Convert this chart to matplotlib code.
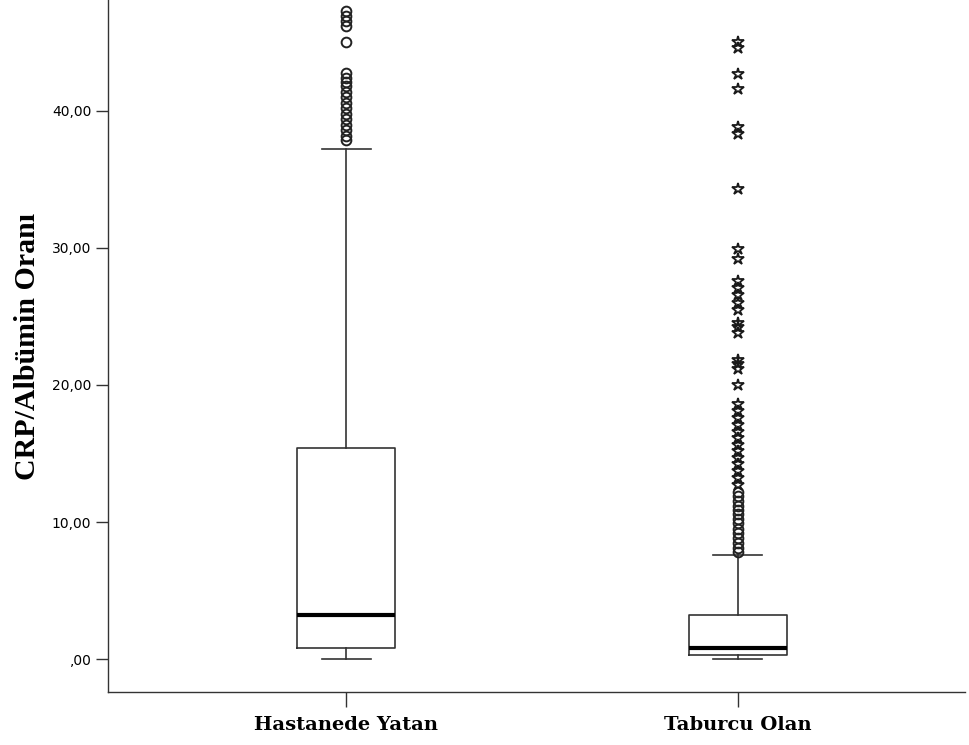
import matplotlib.pyplot as plt

# group labels
groups = ['Hastanede Yatan', 'Taburcu Olan']

# box summary per group: whisker low, Q1, median, Q3, whisker high
whislo = [0.0, 0.0]
q1 = [0.8, 0.3]
med = [3.2, 0.8]
q3 = [15.4, 3.2]
whishi = [37.2, 7.6]

# outliers (circles) and extremes (stars)
out_yatan = [47.3, 46.9, 46.6, 46.2, 45.0, 42.8, 42.4, 42.1, 41.8, 41.4,
             41.0, 40.6, 40.2, 39.8, 39.4, 39.0, 38.6, 38.2, 37.9]
out_taburcu = [12.2, 11.9, 11.5, 11.2, 10.9, 10.6, 10.2, 9.9, 9.5, 9.2,
               8.8, 8.5, 8.1, 7.8]
ext_taburcu = [45.0, 44.6, 42.7, 41.6, 38.8, 38.3, 34.3, 29.9, 29.2, 27.6,
               27.1, 26.6, 26.0, 25.5, 24.5, 24.2, 23.8, 21.8, 21.5, 21.2,
               20.0, 18.6, 18.1, 17.6, 17.1, 16.6, 16.1, 15.6, 15.2, 14.7,
               14.2, 13.7, 13.2, 12.7]

fig = plt.figure(figsize=(9.69, 7.45), dpi=100)
ax = fig.add_axes([0.1115, 0.0711, 0.8845, 0.9289])

stats = []
for i in range(len(groups)):
    stats.append({'whislo': whislo[i], 'q1': q1[i], 'med': med[i],
                  'q3': q3[i], 'whishi': whishi[i], 'fliers': []})

line = dict(color='#333333', linewidth=1.2)
ax.bxp(stats, positions=[1, 2], widths=0.25, capwidths=0.125,
       showfliers=False, boxprops=line, whiskerprops=line, capprops=line,
       medianprops=dict(color='black', linewidth=3))

ax.plot([1] * len(out_yatan), out_yatan, linestyle='None', marker='o',
        markersize=7, markerfacecolor='none', markeredgecolor='#222222',
        markeredgewidth=1.4)
ax.plot([2] * len(out_taburcu), out_taburcu, linestyle='None', marker='o',
        markersize=7, markerfacecolor='none', markeredgecolor='#222222',
        markeredgewidth=1.4)
ax.plot([2] * len(ext_taburcu), ext_taburcu, linestyle='None', marker='*',
        markersize=9, markerfacecolor='none', markeredgecolor='#1a1a1a',
        markeredgewidth=1.3)

ax.set_xlim(0.392, 2.58)
ax.set_ylim(-2.41, 48.1)

ax.set_yticks([0, 10, 20, 30, 40])
ax.set_yticklabels([',00', '10,00', '20,00', '30,00', '40,00'],
                   fontsize=10, family='DejaVu Sans')
ax.set_xticks([1, 2])
ax.set_xticklabels(groups, fontsize=14, fontweight='bold',
                   family='DejaVu Serif')
ax.tick_params(axis='both', direction='out', width=1, color='#333333')
ax.tick_params(axis='y', length=9, pad=3)
ax.tick_params(axis='x', length=11, pad=6)

ax.set_ylabel('CRP/Albümin Oranı', fontsize=21.5, fontweight='bold',
              family='Liberation Serif', labelpad=8)

for side in ['top', 'right']:
    ax.spines[side].set_visible(False)
for side in ['left', 'bottom']:
    ax.spines[side].set_color('#333333')
    ax.spines[side].set_linewidth(1)

fig.savefig('out.png', dpi=100)
